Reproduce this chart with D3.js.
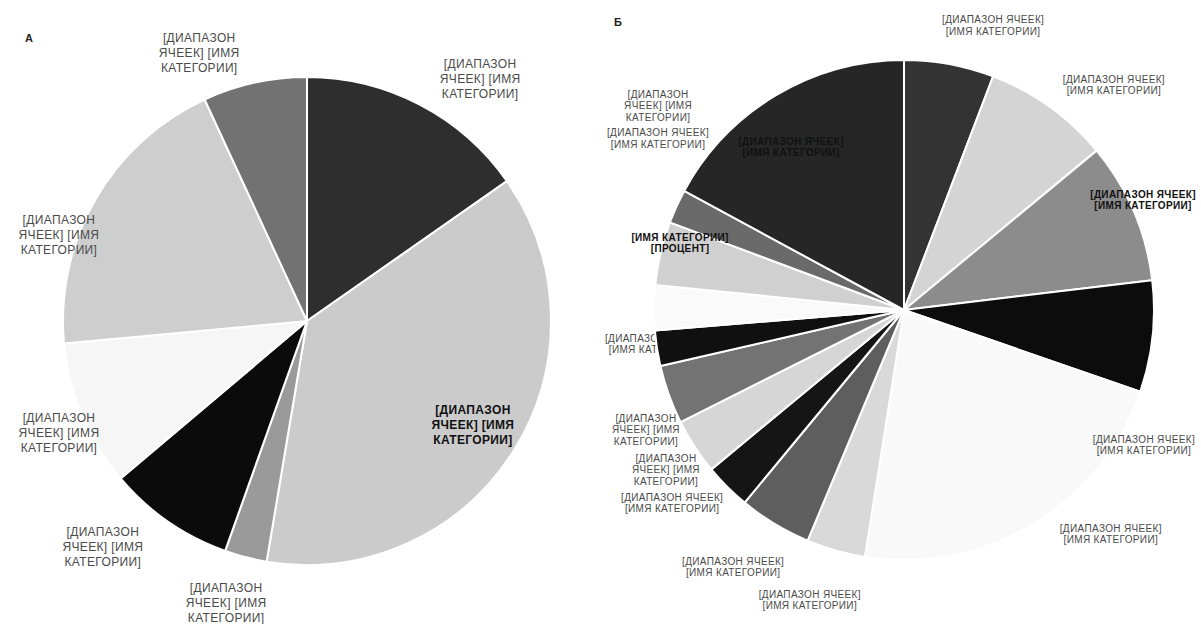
<!DOCTYPE html>
<html><head><meta charset="utf-8">
<script src="https://cdn.jsdelivr.net/npm/d3@7"></script>
<style>html,body{margin:0;padding:0;background:#fff}svg{display:block}</style>
</head><body><svg id="c" width="1201" height="624"></svg>
<script>
// ---- data ----
const L3 = ["[ДИАПАЗОН", "ЯЧЕЕК] [ИМЯ", "КАТЕГОРИИ]"];
const L2 = ["[ДИАПАЗОН ЯЧЕЕК]", "[ИМЯ КАТЕГОРИИ]"];
const LP = ["[ИМЯ КАТЕГОРИИ]", "[ПРОЦЕНТ]"];

const panelTitles = ["А", "Б"];

const categoriesA = ["A1", "A2", "A3", "A4", "A5", "A6", "A7"];
const valuesA = [15.3, 37.4, 2.8, 8.4, 9.7, 19.6, 6.9];
const labelsA = [L3, L3, L3, L3, L3, L3, L3];
const colorsA = ["#2e2e2e", "#cbcbcb", "#9a9a9a", "#0b0b0b", "#f6f6f6", "#cecece", "#727272"];

const categoriesB = ["B1","B2","B3","B4","B5","B6","B7","B8","B9","B10","B11","B12","B13","B14","B15"];
const valuesB = [5.8, 8.2, 9.1, 7.2, 22.2, 3.8, 4.7, 3.0, 3.6, 3.8, 2.3, 2.9, 4.1, 2.2, 17.1];
const labelsB = [L2, L2, L2, L2, L2, L2, L2, L2, L3, L3, L2, L3, LP, L2, L2];
const colorsB = ["#333333", "#d4d4d4", "#8c8c8c", "#0c0c0c", "#f9f9f9", "#d9d9d9", "#5e5e5e", "#151515",
                 "#d6d6d6", "#737373", "#101010", "#fafafa", "#d0d0d0", "#6a6a6a", "#262626"];

// ---- layout (label placement, polar around pie centre: [degrees clockwise from 12 o'clock, distance]) ----
const layoutA = {
  cx: 307, cy: 321, r: 244, font: 12, ls: 0.35, lh: 15,
  title: {x: 29, y: 42},
  labelPolar: [[35.6, 297.5], [122.1, 195.9], [196.0, 293.4], [222.1, 304.5], [245.7, 272.1], [289.1, 262.5], [338.1, 288.9]],
  inside: [false, true, false, false, false, false, false],
  under: [false, false, false, false, false, false, false]
};
const layoutB = {
  cx: 904, cy: 310, r: 250, font: 10, ls: 0.35, lh: 11.5,
  title: {x: 618, y: 26},
  labelPolar: [[17.4, 298], [43.0, 307.8], [65.3, 263.1], [119.4, 275.4], [137.3, 305], [198.0, 304.9], [213.6, 308.7],
               [230.2, 301.8], [236.1, 286.8], [245.1, 284.5], [262.2, 250.3], [309.7, 319.6], [286.7, 233.8], [304.9, 299.9], [325.3, 198.3]],
  inside: [false, false, true, false, false, false, false, false, false, false, false, false, true, false, true],
  under: [false, false, false, false, false, false, false, false, false, false, true, false, false, false, false]
};

const svg = d3.select("#c");

function drawPie(cats, vals, labels, colors, lay, title) {
  const data = cats.map((c, i) => ({cat: c, v: vals[i], lines: labels[i], color: colors[i], i}));
  const pie = d3.pie().sort(null).value(d => d.v).startAngle(0).endAngle(2 * Math.PI);
  const arcs = pie(data);
  const arc = d3.arc().innerRadius(0).outerRadius(lay.r);
  const g = svg.append("g");

  function labelAt(sel, d) {
    const [deg, dist] = lay.labelPolar[d.data.i];
    const a = deg * Math.PI / 180;
    const x = lay.cx + dist * Math.sin(a), y = lay.cy - dist * Math.cos(a);
    const n = d.data.lines.length;
    const t = sel.append("text")
      .attr("x", x).attr("y", y)
      .attr("text-anchor", "middle")
      .style("font-family", "'Liberation Sans', Arial, sans-serif")
      .style("font-size", lay.font + "px")
      .style("letter-spacing", lay.ls + "px")
      .style("font-weight", lay.inside[d.data.i] ? "bold" : "normal")
      .attr("fill", lay.inside[d.data.i] ? "#111" : "#4a4a4a");
    d.data.lines.forEach((ln, k) => {
      t.append("tspan").attr("x", x).attr("y", y + (k - (n - 1) / 2) * lay.lh)
        .attr("dominant-baseline", "central").text(ln);
    });
  }

  const under = g.append("g");
  arcs.filter(d => lay.under[d.data.i]).forEach(d => labelAt(under, d));

  g.append("g").attr("transform", `translate(${lay.cx},${lay.cy})`)
    .selectAll("path").data(arcs).join("path")
    .attr("d", arc)
    .attr("fill", d => d.data.color)
    .attr("stroke", "#fff").attr("stroke-width", 2).attr("stroke-linejoin", "round");

  const over = g.append("g");
  arcs.filter(d => !lay.under[d.data.i]).forEach(d => labelAt(over, d));

  g.append("text").attr("x", lay.title.x).attr("y", lay.title.y)
    .attr("text-anchor", "middle")
    .style("font-family", "'Liberation Sans', Arial, sans-serif")
    .style("font-size", "11px").style("font-weight", "bold").attr("fill", "#222")
    .text(title);
}

drawPie(categoriesA, valuesA, labelsA, colorsA, layoutA, panelTitles[0]);
drawPie(categoriesB, valuesB, labelsB, colorsB, layoutB, panelTitles[1]);
</script>
</body></html>
